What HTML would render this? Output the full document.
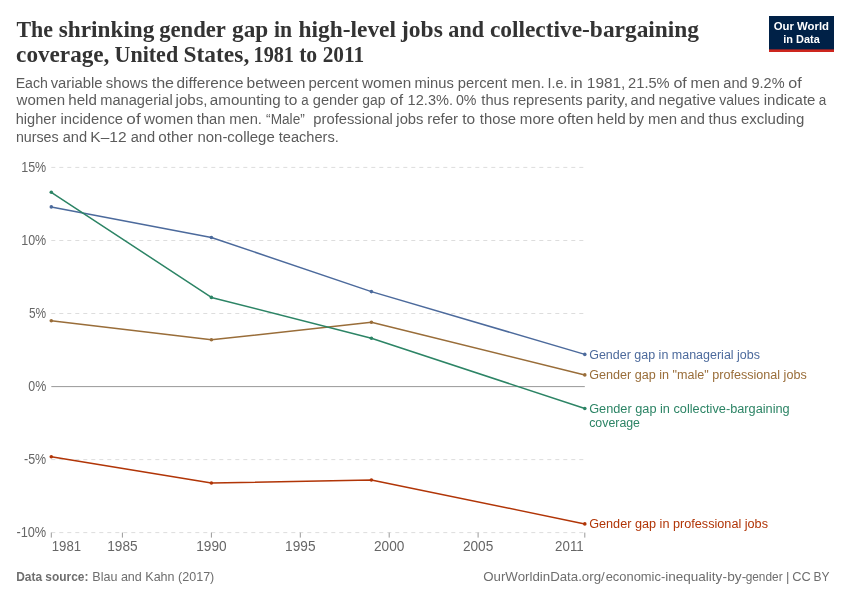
<!DOCTYPE html>
<html lang="en"><head><meta charset="utf-8"><title>The shrinking gender gap in high-level jobs and collective-bargaining coverage</title>
<style>
html,body{margin:0;padding:0;background:#fff;}
body{width:850px;height:600px;overflow:hidden;}
svg{display:block;font-family:"Liberation Sans",sans-serif;}
.title{font-family:"Liberation Serif",serif;font-weight:bold;font-size:24px;fill:#333;}
.sub{font-size:14px;fill:#5b5b5b;}
.tick{font-size:14px;fill:#666;}
.lab{font-size:12.3px;}
.foot{font-size:13px;fill:#6e6e6e;}
.logo{font-size:10.6px;font-weight:bold;fill:#fff;}
</style></head><body>
<svg width="850" height="600" viewBox="0 0 850 600">
<rect width="850" height="600" fill="#fff"/>
<text class="title" y="36.7"><tspan x="16.50" textLength="36.48" lengthAdjust="spacingAndGlyphs">The</tspan> <tspan x="58.76" textLength="95.65" lengthAdjust="spacingAndGlyphs">shrinking</tspan> <tspan x="159.14" textLength="66.34" lengthAdjust="spacingAndGlyphs">gender</tspan> <tspan x="232.08" textLength="36.19" lengthAdjust="spacingAndGlyphs">gap</tspan> <tspan x="274.12" textLength="18.05" lengthAdjust="spacingAndGlyphs">in</tspan> <tspan x="298.46" textLength="97.56" lengthAdjust="spacingAndGlyphs">high-level</tspan> <tspan x="401.01" textLength="41.81" lengthAdjust="spacingAndGlyphs">jobs</tspan> <tspan x="448.33" textLength="35.64" lengthAdjust="spacingAndGlyphs">and</tspan> <tspan x="489.88" textLength="209.20" lengthAdjust="spacingAndGlyphs">collective-bargaining</tspan></text>
<text class="title" y="62.1"><tspan x="16.12" textLength="93.30" lengthAdjust="spacingAndGlyphs">coverage,</tspan> <tspan x="114.52" textLength="63.63" lengthAdjust="spacingAndGlyphs">United</tspan> <tspan x="183.50" textLength="65.74" lengthAdjust="spacingAndGlyphs">States,</tspan> <tspan x="253.53" textLength="40.43" lengthAdjust="spacingAndGlyphs">1981</tspan> <tspan x="299.13" textLength="18.11" lengthAdjust="spacingAndGlyphs">to</tspan> <tspan x="322.65" textLength="41.44" lengthAdjust="spacingAndGlyphs">2011</tspan></text>
<text class="sub" y="87.5"><tspan x="15.69" textLength="32.26" lengthAdjust="spacingAndGlyphs">Each</tspan> <tspan x="50.68" textLength="51.91" lengthAdjust="spacingAndGlyphs">variable</tspan> <tspan x="105.83" textLength="42.24" lengthAdjust="spacingAndGlyphs">shows</tspan> <tspan x="151.66" textLength="22.43" lengthAdjust="spacingAndGlyphs">the</tspan> <tspan x="176.52" textLength="67.09" lengthAdjust="spacingAndGlyphs">difference</tspan> <tspan x="246.59" textLength="58.91" lengthAdjust="spacingAndGlyphs">between</tspan> <tspan x="308.40" textLength="49.96" lengthAdjust="spacingAndGlyphs">percent</tspan> <tspan x="362.10" textLength="49.16" lengthAdjust="spacingAndGlyphs">women</tspan> <tspan x="414.57" textLength="39.27" lengthAdjust="spacingAndGlyphs">minus</tspan> <tspan x="457.87" textLength="49.19" lengthAdjust="spacingAndGlyphs">percent</tspan> <tspan x="511.20" textLength="33.64" lengthAdjust="spacingAndGlyphs">men.</tspan> <tspan x="547.63" textLength="19.85" lengthAdjust="spacingAndGlyphs">I.e.</tspan> <tspan x="570.26" textLength="12.47" lengthAdjust="spacingAndGlyphs">in</tspan> <tspan x="586.88" textLength="38.54" lengthAdjust="spacingAndGlyphs">1981,</tspan> <tspan x="628.11" textLength="41.55" lengthAdjust="spacingAndGlyphs">21.5%</tspan> <tspan x="673.42" textLength="13.44" lengthAdjust="spacingAndGlyphs">of</tspan> <tspan x="690.58" textLength="29.46" lengthAdjust="spacingAndGlyphs">men</tspan> <tspan x="723.39" textLength="24.37" lengthAdjust="spacingAndGlyphs">and</tspan> <tspan x="751.49" textLength="33.09" lengthAdjust="spacingAndGlyphs">9.2%</tspan> <tspan x="788.21" textLength="13.43" lengthAdjust="spacingAndGlyphs">of</tspan></text>
<text class="sub" y="105.4"><tspan x="16.55" textLength="48.53" lengthAdjust="spacingAndGlyphs">women</tspan> <tspan x="68.31" textLength="28.55" lengthAdjust="spacingAndGlyphs">held</tspan> <tspan x="100.24" textLength="72.44" lengthAdjust="spacingAndGlyphs">managerial</tspan> <tspan x="175.60" textLength="31.93" lengthAdjust="spacingAndGlyphs">jobs,</tspan> <tspan x="209.83" textLength="70.84" lengthAdjust="spacingAndGlyphs">amounting</tspan> <tspan x="284.34" textLength="12.92" lengthAdjust="spacingAndGlyphs">to</tspan> <tspan x="301.29" textLength="7.41" lengthAdjust="spacingAndGlyphs">a</tspan> <tspan x="312.80" textLength="45.61" lengthAdjust="spacingAndGlyphs">gender</tspan> <tspan x="362.24" textLength="23.12" lengthAdjust="spacingAndGlyphs">gap</tspan> <tspan x="389.91" textLength="13.21" lengthAdjust="spacingAndGlyphs">of</tspan> <tspan x="407.63" textLength="45.36" lengthAdjust="spacingAndGlyphs">12.3%.</tspan> <tspan x="455.95" textLength="20.52" lengthAdjust="spacingAndGlyphs">0%</tspan> <tspan x="481.31" textLength="27.78" lengthAdjust="spacingAndGlyphs">thus</tspan> <tspan x="513.03" textLength="69.49" lengthAdjust="spacingAndGlyphs">represents</tspan> <tspan x="586.17" textLength="41.88" lengthAdjust="spacingAndGlyphs">parity,</tspan> <tspan x="630.60" textLength="24.51" lengthAdjust="spacingAndGlyphs">and</tspan> <tspan x="658.46" textLength="57.50" lengthAdjust="spacingAndGlyphs">negative</tspan> <tspan x="719.22" textLength="40.62" lengthAdjust="spacingAndGlyphs">values</tspan> <tspan x="763.72" textLength="51.68" lengthAdjust="spacingAndGlyphs">indicate</tspan> <tspan x="818.83" textLength="7.51" lengthAdjust="spacingAndGlyphs">a</tspan></text>
<text class="sub" y="123.5"><tspan x="15.77" textLength="40.49" lengthAdjust="spacingAndGlyphs">higher</tspan> <tspan x="60.46" textLength="62.58" lengthAdjust="spacingAndGlyphs">incidence</tspan> <tspan x="126.39" textLength="14.29" lengthAdjust="spacingAndGlyphs">of</tspan> <tspan x="144.10" textLength="49.10" lengthAdjust="spacingAndGlyphs">women</tspan> <tspan x="196.84" textLength="28.62" lengthAdjust="spacingAndGlyphs">than</tspan> <tspan x="229.17" textLength="32.82" lengthAdjust="spacingAndGlyphs">men.</tspan> <tspan x="266.11" textLength="38.68" lengthAdjust="spacingAndGlyphs">“Male”</tspan> <tspan x="313.34" textLength="79.54" lengthAdjust="spacingAndGlyphs">professional</tspan> <tspan x="396.38" textLength="27.09" lengthAdjust="spacingAndGlyphs">jobs</tspan> <tspan x="427.19" textLength="30.94" lengthAdjust="spacingAndGlyphs">refer</tspan> <tspan x="462.19" textLength="12.92" lengthAdjust="spacingAndGlyphs">to</tspan> <tspan x="479.85" textLength="36.28" lengthAdjust="spacingAndGlyphs">those</tspan> <tspan x="519.89" textLength="34.41" lengthAdjust="spacingAndGlyphs">more</tspan> <tspan x="557.72" textLength="35.75" lengthAdjust="spacingAndGlyphs">often</tspan> <tspan x="596.85" textLength="29.05" lengthAdjust="spacingAndGlyphs">held</tspan> <tspan x="628.73" textLength="15.30" lengthAdjust="spacingAndGlyphs">by</tspan> <tspan x="648.10" textLength="29.07" lengthAdjust="spacingAndGlyphs">men</tspan> <tspan x="680.36" textLength="24.41" lengthAdjust="spacingAndGlyphs">and</tspan> <tspan x="708.64" textLength="28.28" lengthAdjust="spacingAndGlyphs">thus</tspan> <tspan x="740.97" textLength="63.24" lengthAdjust="spacingAndGlyphs">excluding</tspan></text>
<text class="sub" y="141.5"><tspan x="15.95" textLength="42.73" lengthAdjust="spacingAndGlyphs">nurses</tspan> <tspan x="62.67" textLength="24.40" lengthAdjust="spacingAndGlyphs">and</tspan> <tspan x="90.36" textLength="36.18" lengthAdjust="spacingAndGlyphs">K–12</tspan> <tspan x="130.67" textLength="24.40" lengthAdjust="spacingAndGlyphs">and</tspan> <tspan x="158.31" textLength="34.67" lengthAdjust="spacingAndGlyphs">other</tspan> <tspan x="197.45" textLength="77.29" lengthAdjust="spacingAndGlyphs">non-college</tspan> <tspan x="278.76" textLength="60.11" lengthAdjust="spacingAndGlyphs">teachers.</tspan></text>
<rect x="769" y="16" width="65" height="36" fill="#002147"/><rect x="769" y="49.4" width="65" height="2.6" fill="#ce261e"/>
<text class="logo" x="801.4" y="30.4" text-anchor="middle" textLength="55.2" lengthAdjust="spacingAndGlyphs">Our World</text>
<text class="logo" x="801.5" y="42.6" text-anchor="middle" textLength="36.5" lengthAdjust="spacingAndGlyphs">in Data</text>
<line x1="51.3" x2="584.8" y1="167.4" y2="167.4" stroke="#ddd" stroke-width="1" stroke-dasharray="4,4"/>
<text class="tick" x="46.2" y="171.7" text-anchor="end" textLength="25" lengthAdjust="spacingAndGlyphs">15%</text>
<line x1="51.3" x2="584.8" y1="240.5" y2="240.5" stroke="#ddd" stroke-width="1" stroke-dasharray="4,4"/>
<text class="tick" x="46.2" y="244.8" text-anchor="end" textLength="25" lengthAdjust="spacingAndGlyphs">10%</text>
<line x1="51.3" x2="584.8" y1="313.5" y2="313.5" stroke="#ddd" stroke-width="1" stroke-dasharray="4,4"/>
<text class="tick" x="46.2" y="317.8" text-anchor="end" textLength="17.2" lengthAdjust="spacingAndGlyphs">5%</text>
<line x1="51.3" x2="584.8" y1="386.6" y2="386.6" stroke="#999" stroke-width="1"/>
<text class="tick" x="46.2" y="390.9" text-anchor="end" textLength="17.9" lengthAdjust="spacingAndGlyphs">0%</text>
<line x1="51.3" x2="584.8" y1="459.6" y2="459.6" stroke="#ddd" stroke-width="1" stroke-dasharray="4,4"/>
<text class="tick" x="46.2" y="463.9" text-anchor="end" textLength="22.2" lengthAdjust="spacingAndGlyphs">-5%</text>
<line x1="51.3" x2="584.8" y1="532.6" y2="532.6" stroke="#ddd" stroke-width="1" stroke-dasharray="4,4"/>
<text class="tick" x="46.2" y="536.9" text-anchor="end" textLength="29.8" lengthAdjust="spacingAndGlyphs">-10%</text>
<line x1="51.3" x2="51.3" y1="532.6" y2="537.6" stroke="#999" stroke-width="1"/>
<text class="tick" x="51.8" y="550.9" textLength="29.3" lengthAdjust="spacingAndGlyphs">1981</text>
<line x1="122.4" x2="122.4" y1="532.6" y2="537.6" stroke="#999" stroke-width="1"/>
<text class="tick" x="122.4" y="550.9" text-anchor="middle" textLength="30.4" lengthAdjust="spacingAndGlyphs">1985</text>
<line x1="211.4" x2="211.4" y1="532.6" y2="537.6" stroke="#999" stroke-width="1"/>
<text class="tick" x="211.4" y="550.9" text-anchor="middle" textLength="30.4" lengthAdjust="spacingAndGlyphs">1990</text>
<line x1="300.3" x2="300.3" y1="532.6" y2="537.6" stroke="#999" stroke-width="1"/>
<text class="tick" x="300.3" y="550.9" text-anchor="middle" textLength="30.4" lengthAdjust="spacingAndGlyphs">1995</text>
<line x1="389.2" x2="389.2" y1="532.6" y2="537.6" stroke="#999" stroke-width="1"/>
<text class="tick" x="389.2" y="550.9" text-anchor="middle" textLength="30.4" lengthAdjust="spacingAndGlyphs">2000</text>
<line x1="478.1" x2="478.1" y1="532.6" y2="537.6" stroke="#999" stroke-width="1"/>
<text class="tick" x="478.1" y="550.9" text-anchor="middle" textLength="30.4" lengthAdjust="spacingAndGlyphs">2005</text>
<line x1="584.8" x2="584.8" y1="532.6" y2="537.6" stroke="#999" stroke-width="1"/>
<text class="tick" x="583.7" y="550.9" text-anchor="end" textLength="28.6" lengthAdjust="spacingAndGlyphs">2011</text>
<polyline points="51.3,206.9 211.4,237.5 371.4,291.6 584.8,354.4" fill="none" stroke="#4C6A9C" stroke-width="1.5" stroke-linejoin="round" stroke-linecap="round"/>
<circle cx="51.3" cy="206.9" r="1.8" fill="#4C6A9C"/>
<circle cx="211.4" cy="237.5" r="1.8" fill="#4C6A9C"/>
<circle cx="371.4" cy="291.6" r="1.8" fill="#4C6A9C"/>
<circle cx="584.8" cy="354.4" r="1.8" fill="#4C6A9C"/>
<polyline points="51.3,320.8 211.4,339.8 371.4,322.3 584.8,374.9" fill="none" stroke="#996D39" stroke-width="1.5" stroke-linejoin="round" stroke-linecap="round"/>
<circle cx="51.3" cy="320.8" r="1.8" fill="#996D39"/>
<circle cx="211.4" cy="339.8" r="1.8" fill="#996D39"/>
<circle cx="371.4" cy="322.3" r="1.8" fill="#996D39"/>
<circle cx="584.8" cy="374.9" r="1.8" fill="#996D39"/>
<polyline points="51.3,192.3 211.4,297.4 371.4,338.3 584.8,408.5" fill="none" stroke="#2C8465" stroke-width="1.5" stroke-linejoin="round" stroke-linecap="round"/>
<circle cx="51.3" cy="192.3" r="1.8" fill="#2C8465"/>
<circle cx="211.4" cy="297.4" r="1.8" fill="#2C8465"/>
<circle cx="371.4" cy="338.3" r="1.8" fill="#2C8465"/>
<circle cx="584.8" cy="408.5" r="1.8" fill="#2C8465"/>
<polyline points="51.3,456.7 211.4,483.0 371.4,480.0 584.8,523.9" fill="none" stroke="#B13507" stroke-width="1.5" stroke-linejoin="round" stroke-linecap="round"/>
<circle cx="51.3" cy="456.7" r="1.8" fill="#B13507"/>
<circle cx="211.4" cy="483.0" r="1.8" fill="#B13507"/>
<circle cx="371.4" cy="480.0" r="1.8" fill="#B13507"/>
<circle cx="584.8" cy="523.9" r="1.8" fill="#B13507"/>
<text class="lab" fill="#4C6A9C" x="589.2" y="358.7" textLength="170.8" lengthAdjust="spacingAndGlyphs">Gender gap in managerial jobs</text>
<text class="lab" fill="#996D39" x="589.2" y="379.2" textLength="217.5" lengthAdjust="spacingAndGlyphs">Gender gap in &quot;male&quot; professional jobs</text>
<text class="lab" fill="#2C8465" x="589.2" y="412.5" textLength="200.5" lengthAdjust="spacingAndGlyphs">Gender gap in collective-bargaining</text>
<text class="lab" fill="#2C8465" x="589.2" y="426.8" textLength="50.8" lengthAdjust="spacingAndGlyphs">coverage</text>
<text class="lab" fill="#B13507" x="589.2" y="528.4" textLength="178.8" lengthAdjust="spacingAndGlyphs">Gender gap in professional jobs</text>
<text class="foot" x="16.2" y="580.7" font-weight="bold" textLength="72.2" lengthAdjust="spacingAndGlyphs">Data source:</text>
<text class="foot" x="92.3" y="580.7" textLength="122" lengthAdjust="spacingAndGlyphs">Blau and Kahn (2017)</text>
<text class="foot" y="580.7"><tspan x="483.23" textLength="121.54" lengthAdjust="spacingAndGlyphs">OurWorldinData.org/</tspan><tspan x="605.70" textLength="59.52" lengthAdjust="spacingAndGlyphs">economic-</tspan><tspan x="665.21" textLength="61.70" lengthAdjust="spacingAndGlyphs">inequality-</tspan><tspan x="727.25" textLength="19.01" lengthAdjust="spacingAndGlyphs">by-</tspan><tspan x="745.70" textLength="36.91" lengthAdjust="spacingAndGlyphs">gender</tspan> <tspan x="786.00">|</tspan> <tspan x="792.36" textLength="18.52" lengthAdjust="spacingAndGlyphs">CC</tspan> <tspan x="813.44" textLength="16.03" lengthAdjust="spacingAndGlyphs">BY</tspan></text>
</svg></body></html>
